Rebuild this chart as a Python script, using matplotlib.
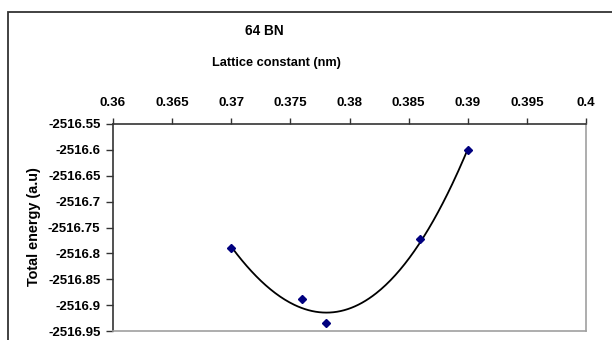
import numpy as np
import matplotlib
matplotlib.use("Agg")
import matplotlib.pyplot as plt
from matplotlib.patches import Rectangle

lattice = [0.370, 0.376, 0.378, 0.386, 0.390]
energy = [-2516.789, -2516.888, -2516.934, -2516.772, -2516.601]
xticks = [0.36, 0.365, 0.37, 0.375, 0.38, 0.385, 0.39, 0.395, 0.4]
xtick_labels = ["0.36", "0.365", "0.37", "0.375", "0.38", "0.385", "0.39", "0.395", "0.4"]
yticks = [-2516.55, -2516.6, -2516.65, -2516.7, -2516.75, -2516.8, -2516.85, -2516.9, -2516.95]
ytick_labels = ["-2516.55", "-2516.6", "-2516.65", "-2516.7", "-2516.75", "-2516.8", "-2516.85", "-2516.9", "-2516.95"]

plt.rcParams['font.family'] = ['Liberation Sans', 'DejaVu Sans']
plt.rcParams['font.weight'] = 'bold'

W, H = 612, 340
fig = plt.figure(figsize=(W / 100, H / 100), dpi=100)
fig.patch.set_facecolor('white')

# outer chart border
fig.patches.append(Rectangle((8.3 / W, -0.1), 1.2, 1.1 - 12 / H, transform=fig.transFigure,
                             fill=False, edgecolor='#333333', linewidth=1.3))

L, R, T, B = 113, 586, 124, 331
ax = fig.add_axes([L / W, 1 - B / H, (R - L) / W, (B - T) / H])

# trendline (polynomial fit)
coef = np.polyfit(lattice, energy, 3)
xs = np.linspace(min(lattice), max(lattice), 200)
ax.plot(xs, np.polyval(coef, xs), color='black', lw=1.3, zorder=2)
ax.plot(lattice, energy, linestyle='none', marker='D', markersize=3.8,
        color='#00007f', markeredgecolor='#00007f', zorder=3)

ax.set_xlim(0.36, 0.4)
ax.set_ylim(-2516.95, -2516.55)
ax.xaxis.tick_top()
ax.set_xticks(xticks)
ax.set_xticklabels(xtick_labels)
ax.set_yticks(yticks)
ax.set_yticklabels(ytick_labels)
ax.tick_params(axis='x', direction='out', length=4, width=1, color='#333333',
               labelsize=9.6, pad=6.8)
ax.tick_params(axis='y', direction='out', length=5, width=1, color='#333333',
               labelsize=9.5, pad=4)
for lab in ax.get_xticklabels() + ax.get_yticklabels():
    lab.set_fontweight('bold')

ax.spines['left'].set_color('#333333')
ax.spines['top'].set_color('#333333')
ax.spines['left'].set_linewidth(1.2)
ax.spines['top'].set_linewidth(1.2)
ax.spines['right'].set_color('#a0a0a0')
ax.spines['bottom'].set_color('#a0a0a0')
ax.spines['right'].set_linewidth(1.2)
ax.spines['bottom'].set_linewidth(1.2)

fig.text(264 / W, 1 - 31 / H, "64 BN", ha='center', va='center', fontsize=9.8, fontweight='bold')
fig.text(276 / W, 1 - 63 / H, "Lattice constant (nm)", ha='center', va='center', fontsize=9.2, fontweight='bold')
fig.text(34 / W, 1 - 227 / H, "Total energy (a.u)", ha='center', va='center', rotation=90,
         fontsize=10.4, fontweight='bold')

fig.savefig("out.png", dpi=100, facecolor='white')
